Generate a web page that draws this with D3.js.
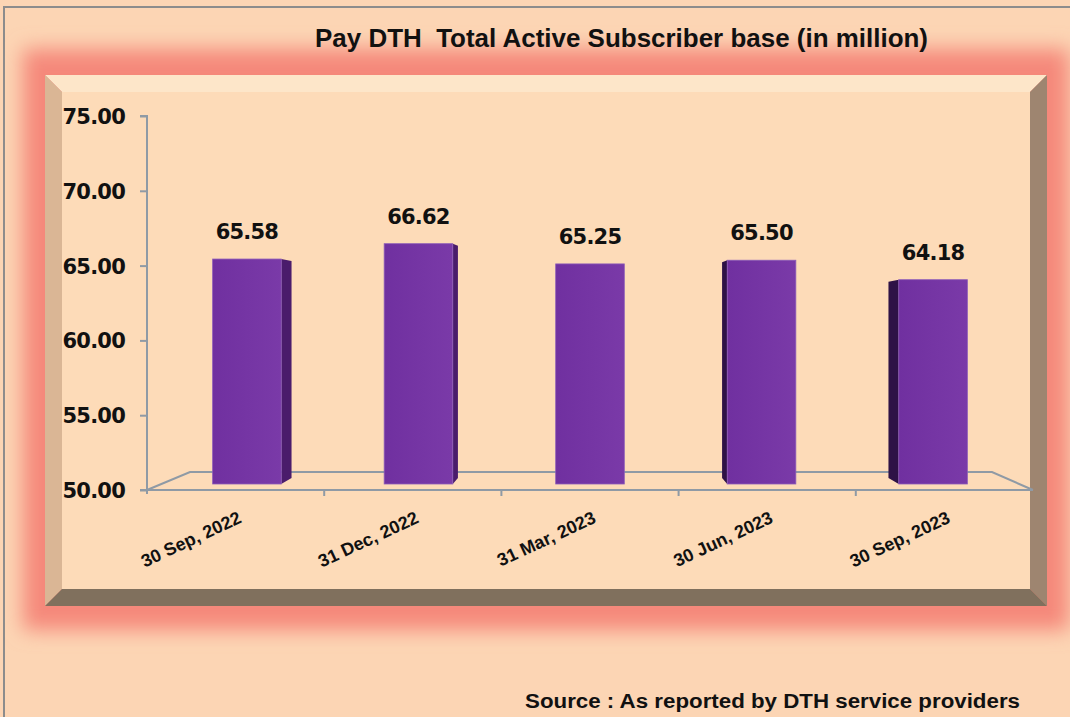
<!DOCTYPE html>
<html>
<head>
<meta charset="utf-8">
<script src="https://cdn.jsdelivr.net/npm/d3@7"></script>
<style>
  html, body { margin: 0; padding: 0; background: #fcd5b4; }
  svg { display: block; }
  text.pre { white-space: pre; }
</style>
</head>
<body>
<svg id="chart" width="1070" height="717"></svg>
<script>
// Pay DTH subscriber base by quarter (million)
const categories = ["30 Sep, 2022", "31 Dec, 2022", "31 Mar, 2023", "30 Jun, 2023", "30 Sep, 2023"];
const subscribers = [65.58, 66.62, 65.25, 65.50, 64.18];
const yTicks = [50, 55, 60, 65, 70, 75];
const titleText = "Pay DTH  Total Active Subscriber base (in million)";
const sourceText = "Source : As reported by DTH service providers";

const svg = d3.select("#chart");
const W = 1070, H = 717;

const defs = svg.append("defs");
defs.append("filter").attr("id", "glow")
  .attr("x", "-10%").attr("y", "-15%").attr("width", "120%").attr("height", "130%")
  .append("feGaussianBlur").attr("stdDeviation", 10);

// page background and frame
svg.append("rect").attr("width", W).attr("height", H).attr("fill", "#fcd5b4");
svg.append("line").attr("x1", 3).attr("x2", W).attr("y1", 7).attr("y2", 7)
  .attr("stroke", "#8c8c8c").attr("stroke-width", 2);
svg.append("line").attr("x1", 4).attr("x2", 4).attr("y1", 6).attr("y2", H)
  .attr("stroke", "#8c8c8c").attr("stroke-width", 2);

// bevelled plot panel with soft glow
const panel = { x0: 45, y0: 75, x1: 1047, y1: 606, b: 17 };
svg.append("rect")
  .attr("x", panel.x0 - 12).attr("y", panel.y0 - 16)
  .attr("width", panel.x1 - panel.x0 + 24).attr("height", panel.y1 - panel.y0 + 30)
  .attr("fill", "#f5887a").attr("stroke", "#f5887a").attr("stroke-width", 20)
  .attr("filter", "url(#glow)");

const p = panel, b = panel.b;
const poly = pts => pts.map(d => d.join(",")).join(" ");
svg.append("polygon").attr("fill", "#fde6c9")
  .attr("points", poly([[p.x0, p.y0], [p.x1, p.y0], [p.x1 - b, p.y0 + b], [p.x0 + b, p.y0 + b]]));
svg.append("polygon").attr("fill", "#dab695")
  .attr("points", poly([[p.x0, p.y0], [p.x0 + b, p.y0 + b], [p.x0 + b, p.y1 - b], [p.x0, p.y1]]));
svg.append("polygon").attr("fill", "#9e8570")
  .attr("points", poly([[p.x1, p.y0], [p.x1, p.y1], [p.x1 - b, p.y1 - b], [p.x1 - b, p.y0 + b]]));
svg.append("polygon").attr("fill", "#80705d")
  .attr("points", poly([[p.x0, p.y1], [p.x0 + b, p.y1 - b], [p.x1 - b, p.y1 - b], [p.x1, p.y1]]));
svg.append("rect").attr("x", p.x0 + b).attr("y", p.y0 + b)
  .attr("width", p.x1 - p.x0 - 2 * b).attr("height", p.y1 - p.y0 - 2 * b)
  .attr("fill", "#fddbb8");

// scales
const plot = { left: 147, right: 1033, top: 116, bottom: 490 };
const depth = { dx: 43, dy: -18 };
const x = d3.scaleBand().domain(categories).range([plot.left, plot.right]).padding(0);
const y = d3.scaleLinear().domain([50, 75]).range([plot.bottom, plot.top]);
// bars stand on a plane set back from the front axis
const yBar = d3.scaleLinear().domain([50, 75]).range([489, 120]);
const barBase = yBar(50) - 5;
const vp = 590, persp = 0.968, sideK = 0.03;

const axisColor = "#8f9aa5";

// floor
const floor = svg.append("g").attr("fill", "none").attr("stroke", axisColor).attr("stroke-width", 2);
floor.append("polyline").attr("points", poly([
  [plot.left, plot.bottom],
  [plot.left + depth.dx, plot.bottom + depth.dy],
  [plot.right - depth.dx + 2, plot.bottom + depth.dy],
  [plot.right, plot.bottom]
]));
floor.append("line").attr("x1", plot.left).attr("x2", plot.right)
  .attr("y1", plot.bottom).attr("y2", plot.bottom);
categories.forEach((c, i) => {
  const xb = x(c);
  floor.append("line").attr("x1", xb).attr("x2", xb)
    .attr("y1", plot.bottom).attr("y2", plot.bottom + (i === 0 ? 4 : 6));
});

// y axis
const yAxis = svg.append("g").attr("transform", `translate(${plot.left},0)`)
  .call(d3.axisLeft(y).tickValues(yTicks).tickFormat(d3.format(".2f")).tickSize(7).tickPadding(15));
yAxis.selectAll("path, line").attr("stroke", axisColor).attr("stroke-width", 2);
yAxis.select(".domain").attr("d", `M-7,${plot.top}H0V${plot.bottom}H-7`);
yAxis.selectAll("text")
  .attr("fill", "#111").attr("font-family", "DejaVu Sans, Verdana, sans-serif")
  .attr("font-weight", "bold").attr("font-size", 21).attr("letter-spacing", -0.8)
  .attr("dy", "0.36em");

// bars
const grad = defs.append("linearGradient").attr("id", "barFace")
  .attr("x1", "0%").attr("x2", "100%").attr("y1", "0%").attr("y2", "0%");
grad.append("stop").attr("offset", "0%").attr("stop-color", "#7030a0");
grad.append("stop").attr("offset", "100%").attr("stop-color", "#7a3aa8");

const barW = x.bandwidth() * 0.4 * persp;
const bars = categories.map((c, i) => {
  const cx = vp + (x(c) + x.bandwidth() / 2 - vp) * persp;
  return { c, v: subscribers[i], cx, x0: cx - barW / 2, x1: cx + barW / 2, top: yBar(subscribers[i]), side: Math.abs(cx - vp) * sideK, dir: cx < vp ? 1 : -1 };
});

const gBars = svg.append("g");
bars.forEach(d => {
  if (d.side > 1) {
    const ex = d.dir > 0 ? d.x1 : d.x0;
    const bx = ex + d.dir * d.side;
    gBars.append("polygon")
      .attr("fill", d.dir > 0 ? "#4a1c6b" : "#2e1246")
      .attr("points", poly([[ex, d.top], [bx, d.top + 2], [bx, barBase - 6], [ex, barBase]]));
  }
  gBars.append("rect")
    .attr("x", d.x0).attr("y", d.top).attr("width", barW).attr("height", barBase - d.top)
    .attr("fill", "url(#barFace)").attr("stroke", "#8c5cb8").attr("stroke-width", 0.8);
});

// value labels
svg.append("g").selectAll("text").data(bars).join("text")
  .attr("x", d => d.cx).attr("y", d => d.top - 20)
  .attr("text-anchor", "middle")
  .attr("font-family", "DejaVu Sans, Verdana, sans-serif")
  .attr("font-weight", "bold").attr("font-size", 21).attr("letter-spacing", -0.8)
  .attr("fill", "#111")
  .text(d => d.v.toFixed(2));

// category labels
svg.append("g").selectAll("text").data(categories).join("text")
  .attr("transform", c => `translate(${x(c) + x.bandwidth() / 2 + 7},522) rotate(-25)`)
  .attr("text-anchor", "end")
  .attr("font-family", "Liberation Sans, Arial, sans-serif")
  .attr("font-weight", "bold").attr("font-size", 18)
  .attr("fill", "#111")
  .text(c => c);

// title and source note
svg.append("text").attr("class", "pre")
  .attr("x", 315).attr("y", 47)
  .attr("textLength", 613).attr("lengthAdjust", "spacingAndGlyphs")
  .attr("font-family", "Liberation Sans Narrow, Liberation Sans, Arial, sans-serif")
  .attr("font-weight", "bold").attr("font-size", 26).attr("fill", "#111")
  .text(titleText);

svg.append("text")
  .attr("x", 525).attr("y", 708)
  .attr("textLength", 495).attr("lengthAdjust", "spacingAndGlyphs")
  .attr("font-family", "Liberation Sans Narrow, Liberation Sans, Arial, sans-serif")
  .attr("font-weight", "bold").attr("font-size", 20).attr("fill", "#111")
  .text(sourceText);
</script>
</body>
</html>
